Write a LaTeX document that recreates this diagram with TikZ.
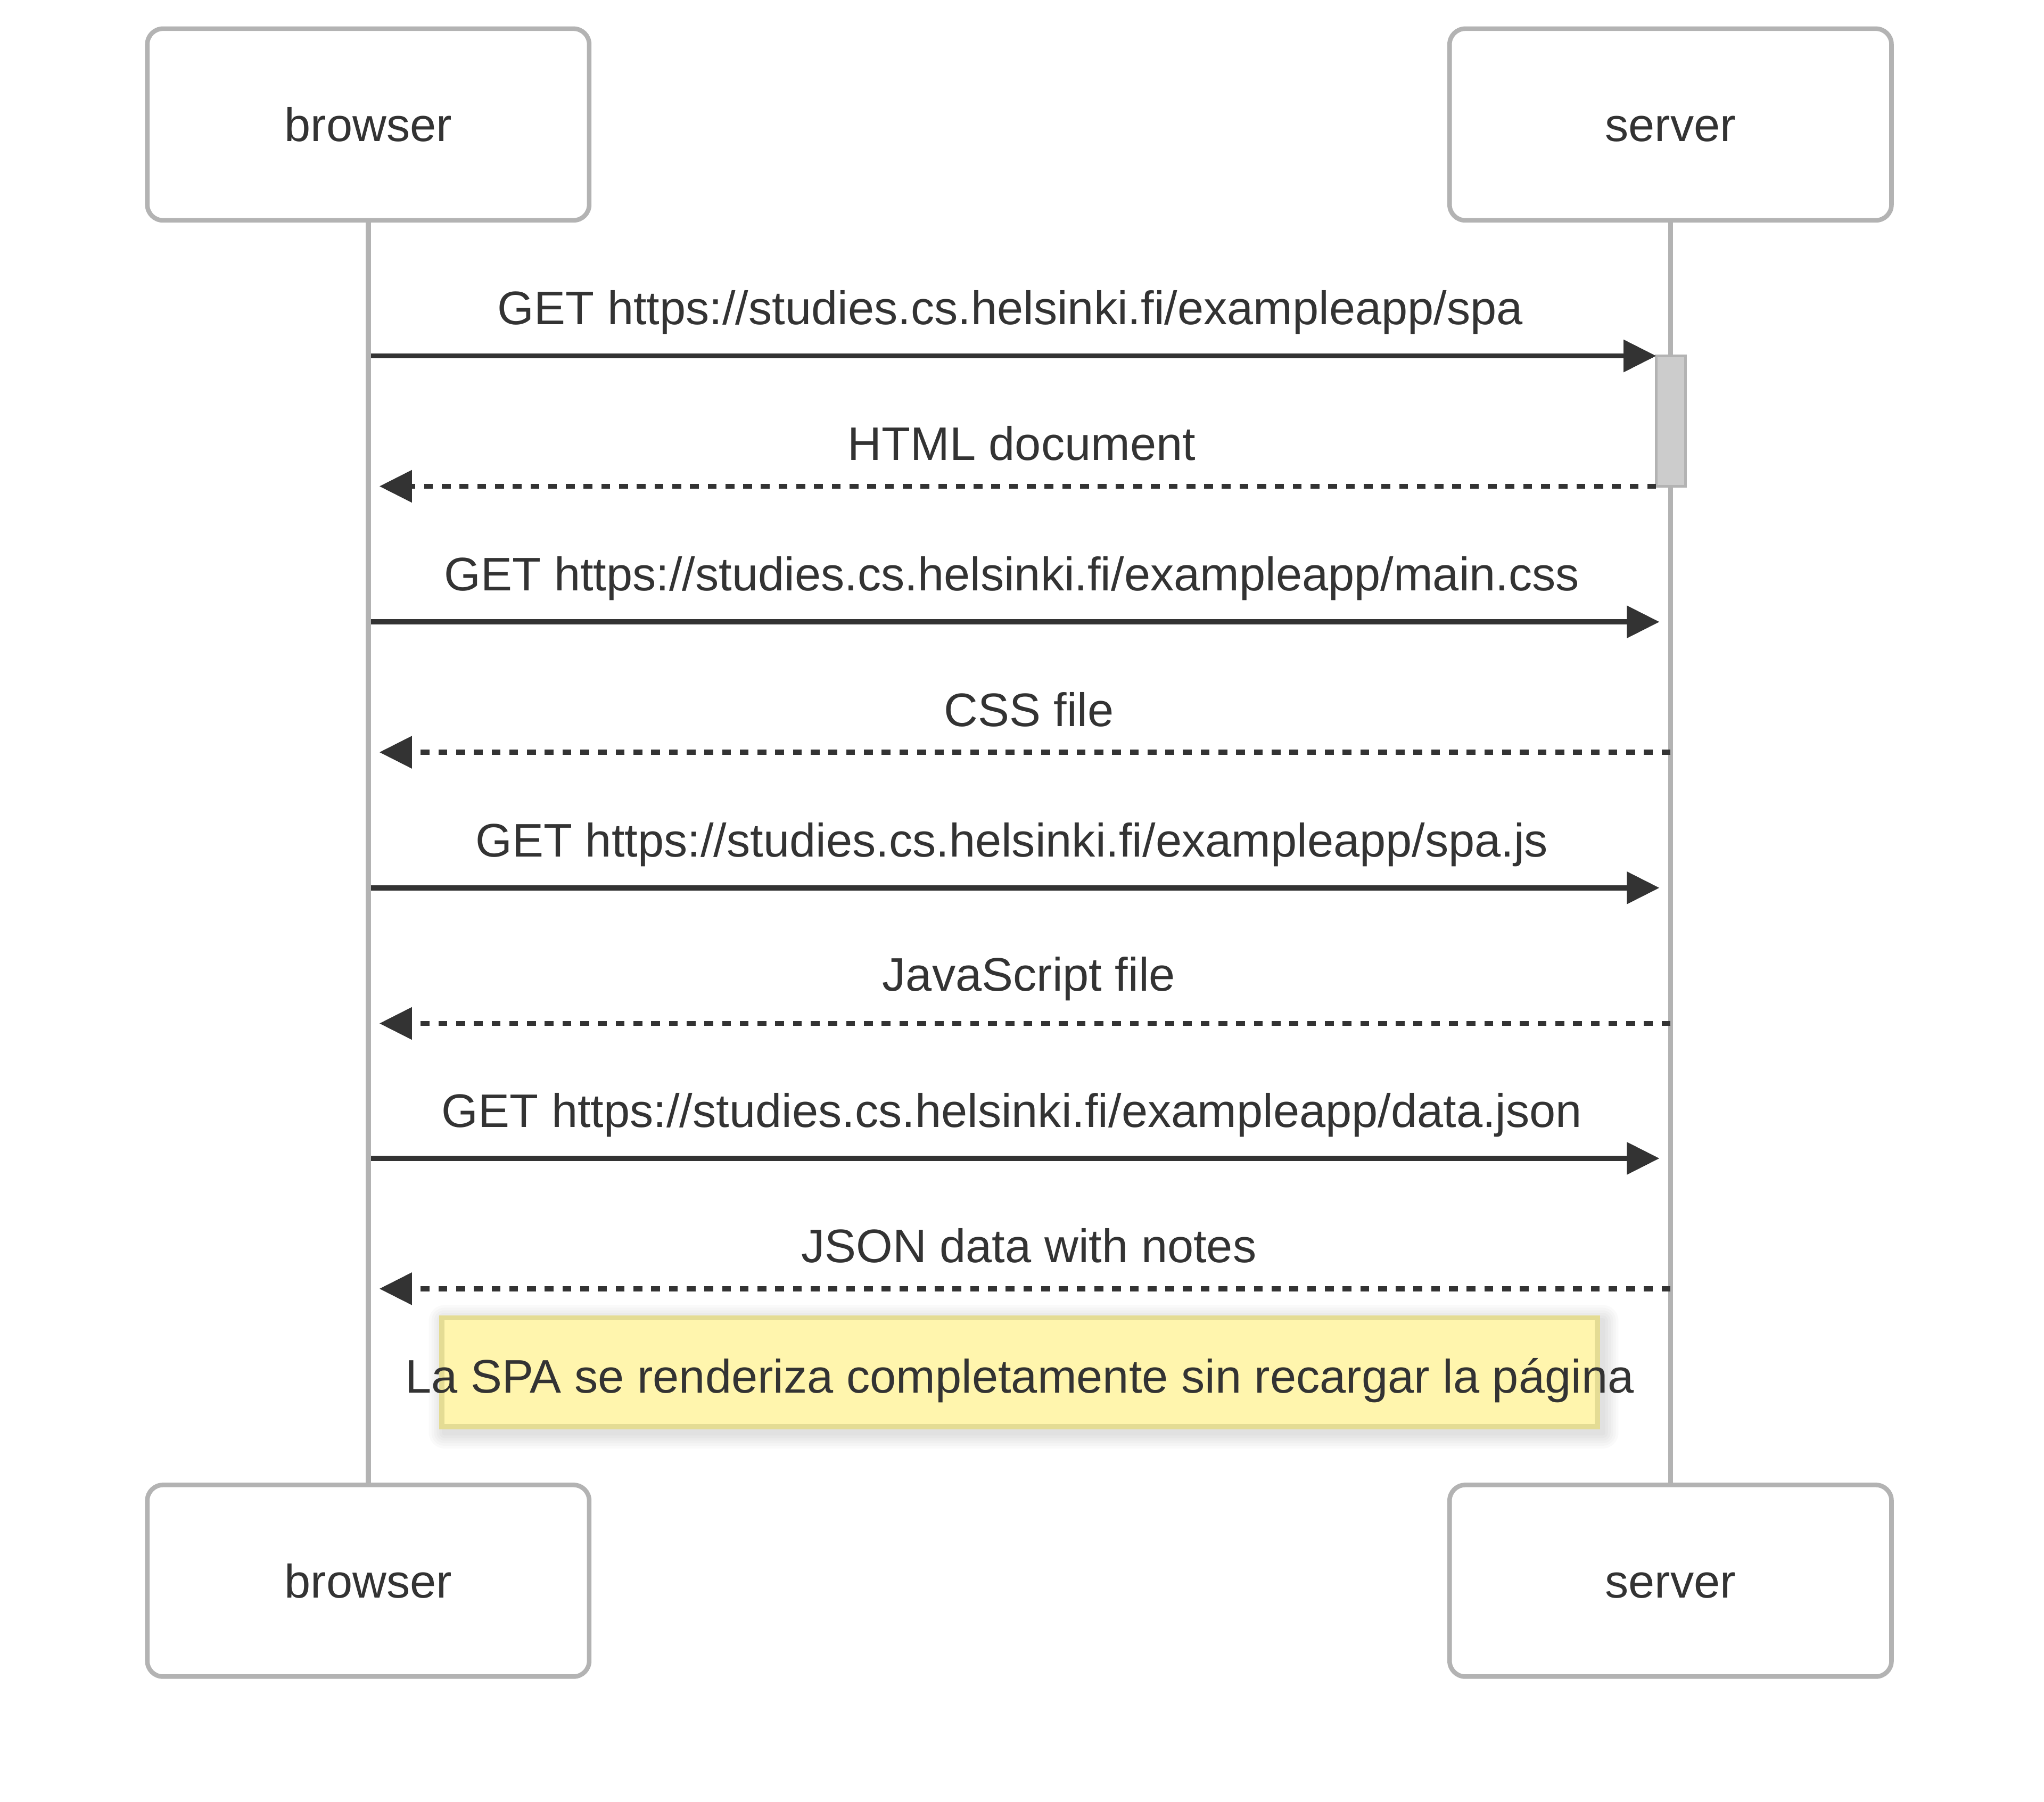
\documentclass[tikz,border=0pt]{standalone}
\usepackage{fontspec}
\setmainfont{Liberation Sans}
\usetikzlibrary{arrows.meta}
\definecolor{txt}{HTML}{333333}
\definecolor{lgray}{HTML}{B3B3B3}
\definecolor{actfill}{HTML}{CCCCCC}
\definecolor{notefill}{HTML}{FFF5AD}
\definecolor{notedraw}{RGB}{228,220,148}
\begin{document}
\begin{tikzpicture}[x=1pt,y=-1pt,
  every node/.style={font=\fontsize{36.1}{43}\selectfont, text=txt},
  actor/.style={draw=lgray, line width=3.5pt, rounded corners=12pt, fill=white,
    minimum width=339pt, minimum height=147pt, inner sep=0pt,
    text height=26.2pt, text depth=0pt},
  lifeline/.style={draw=lgray, line width=4pt},
  msgsolid/.style={draw=txt, line width=4pt, -{Triangle[length=25pt,width=24pt]}},
  msgdash/.style={draw=txt, line width=4pt, dash pattern=on 6.8pt off 6.8pt,
    -{Triangle[length=25pt,width=24pt]}},
  lbl/.style={anchor=base, inner sep=0pt},
  lblsolid/.style={lbl, midway, yshift=24pt, xshift=-2.5pt},
  lbldash/.style={lbl, midway, yshift=20pt, xshift=3pt},
  actbar/.style={draw=lgray, fill=actfill, line width=2pt, minimum width=22.5pt,
    minimum height=100pt, inner sep=0pt},
  notebox/.style={draw=notedraw, fill=notefill, line width=4pt, minimum width=886.5pt,
    minimum height=83.4pt, inner sep=0pt},
  ]
\useasboundingbox (0,0) rectangle (1568,1382.2);
\fill[white] (0,0) rectangle (1568,1382.2);

% actors
\node[actor] (bt) at (282.5,95.5) {browser};
\node[actor] (st) at (1281.5,95.5) {server};
\node[actor] (bb) at (282.5,1212.5) {browser};
\node[actor] (sb) at (1281.5,1212.5) {server};

% lifelines
\draw[lifeline] (bt.south) -- (bb.north);
\draw[lifeline] (st.south) -- (sb.north);

% activation
\node[actbar] (act) at (1281.75,323) {};

% message end points
\coordinate (m1a) at (284.5,273);  \coordinate (m1b) at (1270.5,273);
\coordinate (m2a) at (1270.5,373); \coordinate (m2b) at (291,373);
\coordinate (m3a) at (284.5,477);  \coordinate (m3b) at (1273,477);
\coordinate (m4a) at (1281.5,577); \coordinate (m4b) at (291,577);
\coordinate (m5a) at (284.5,681);  \coordinate (m5b) at (1273,681);
\coordinate (m6a) at (1281.5,785); \coordinate (m6b) at (291,785);
\coordinate (m7a) at (284.5,888.5);  \coordinate (m7b) at (1273,888.5);
\coordinate (m8a) at (1281.5,988.5); \coordinate (m8b) at (291,988.5);

\draw[msgsolid] (m1a) -- (m1b) node[lblsolid] {GET https://studies.cs.helsinki.fi/exampleapp/spa};
\draw[msgdash] (m2a) -- (m2b) node[lbldash] {HTML document};
\draw[msgsolid] (m3a) -- (m3b) node[lblsolid] {GET https://studies.cs.helsinki.fi/exampleapp/main.css};
\draw[msgdash] (m4a) -- (m4b) node[lbldash] {CSS file};
\draw[msgsolid] (m5a) -- (m5b) node[lblsolid] {GET https://studies.cs.helsinki.fi/exampleapp/spa.js};
\draw[msgdash] (m6a) -- (m6b) node[lbldash, yshift=5pt] {JavaScript file};
\draw[msgsolid] (m7a) -- (m7b) node[lblsolid] {GET https://studies.cs.helsinki.fi/exampleapp/data.json};
\draw[msgdash] (m8a) -- (m8b) node[lbldash] {JSON data with notes};

% note shadow
\foreach \r in {2,4,6,8,10,12}
  \fill[black, opacity=0.02, rounded corners=\r pt]
    (341-\r,1013-\r) rectangle (1229.5+\r,1099+\r);
\node[notebox] (note) at (782.25,1052.5) {};
\node[lbl] (notetxt) at (782.25,1068.5) {La SPA se renderiza completamente sin recargar la página};
\end{tikzpicture}
\end{document}
